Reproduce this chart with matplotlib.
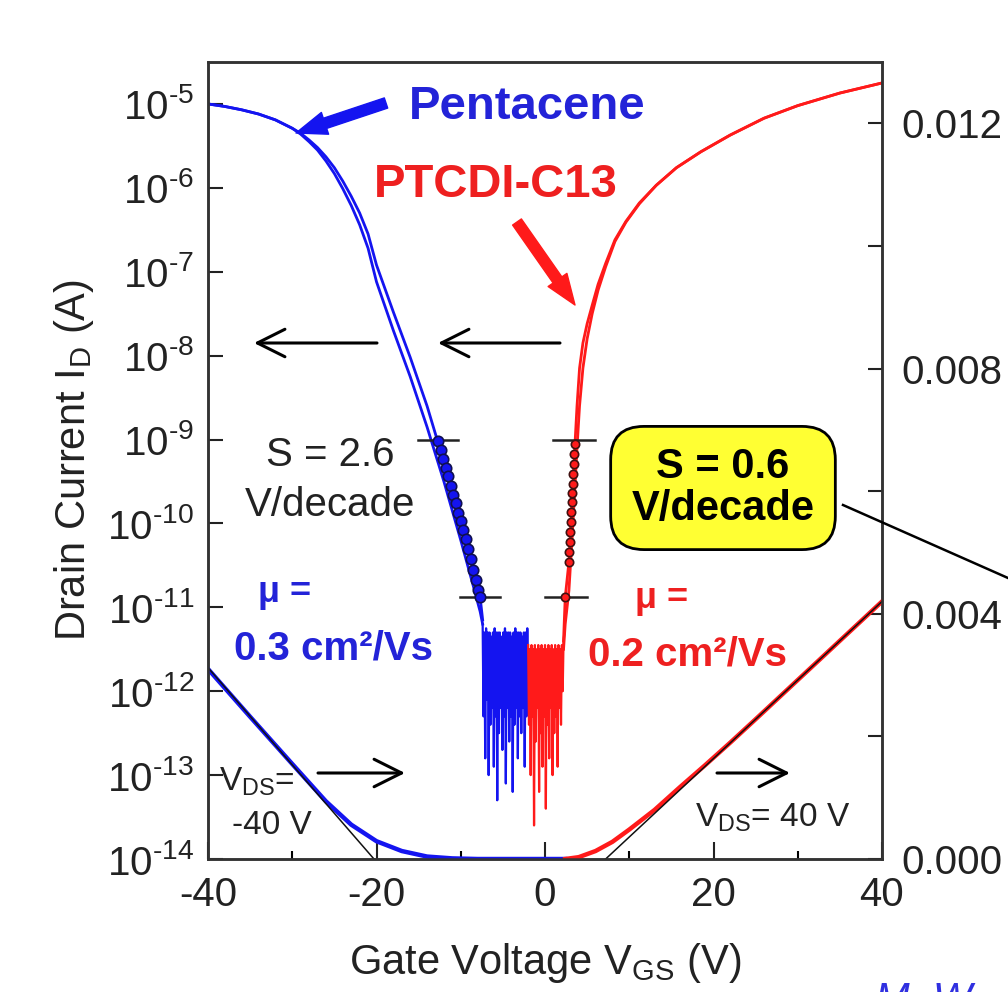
import numpy as np
import matplotlib.pyplot as plt
from matplotlib.patches import FancyArrowPatch
from matplotlib.lines import Line2D
from matplotlib.ticker import FixedLocator, NullLocator

plt.rcParams['font.family'] = ['Liberation Sans', 'DejaVu Sans']
plt.rcParams['mathtext.fontset'] = 'custom'
plt.rcParams['mathtext.rm'] = 'Liberation Sans'
plt.rcParams['mathtext.it'] = 'Liberation Sans:italic'
plt.rcParams['mathtext.bf'] = 'Liberation Sans:bold'
plt.rcParams['axes.unicode_minus'] = False

# ---- data ----
# pentacene transfer curve, log10(I_D), two sweep directions
pen_v = [-40, -38, -36, -34, -32, -30, -29, -28, -27, -26, -25, -24, -23, -22, -21, -20,
         -18, -16, -14, -12, -10, -8.5, -7.7, -7.4]
pen_fwd = [-5.00, -5.03, -5.07, -5.12, -5.19, -5.29, -5.35, -5.43, -5.52, -5.63, -5.76,
           -5.92, -6.10, -6.30, -6.55, -6.92, -7.48, -8.02, -8.60, -9.27, -9.97, -10.55,
           -10.88, -11.15]
pen_rev = [-5.00, -5.03, -5.07, -5.12, -5.19, -5.29, -5.36, -5.45, -5.55, -5.68, -5.83,
           -6.01, -6.21, -6.44, -6.72, -7.12, -7.70, -8.25, -8.85, -9.50, -10.20, -10.75,
           -11.05, -11.20]
pen_noise = [-11.2, -12.3, -11.3, -12.8, -11.25, -12.1, -11.3, -13.0, -11.3, -12.4,
             -11.35, -12.2, -11.3, -12.9, -11.25, -12.3, -11.3, -13.3, -11.3, -12.5,
             -11.3, -12.2, -11.35, -12.7, -11.3, -12.3, -11.25, -13.1, -11.3, -12.2,
             -11.3, -12.6, -11.3, -12.3, -11.35, -13.2, -11.3, -12.4, -11.25, -12.2,
             -11.3, -12.8, -11.3, -12.3, -11.3, -12.5, -11.35, -12.2, -11.3, -12.9,
             -11.3, -12.3, -11.25, -12.2]
pen_circ_v = [-12.7, -12.4, -12.1, -11.8, -11.5, -11.2, -10.9, -10.6, -10.3, -10.0,
              -9.7, -9.4, -9.1, -8.8, -8.5, -8.2, -7.9, -7.7]
pen_circ = [-9.02, -9.13, -9.23, -9.34, -9.44, -9.55, -9.66, -9.76, -9.87, -9.97,
            -10.08, -10.18, -10.30, -10.42, -10.55, -10.67, -10.79, -10.88]

# PTCDI-C13 transfer curve
pt_v = [2.2, 2.4, 2.84, 3.2, 3.56, 3.8, 4.1, 4.5, 5.0, 5.6, 6.3, 7.2, 8.3, 9.6, 11.2,
        13.2, 15.6, 18.5, 22, 26, 30, 35, 40]
pt_fwd = [-11.4, -10.88, -10.46, -9.74, -9.05, -8.6, -8.15, -7.85, -7.62, -7.4, -7.15,
          -6.9, -6.62, -6.4, -6.18, -5.97, -5.76, -5.57, -5.37, -5.17, -5.02, -4.87, -4.75]
pt_rev = [-11.5, -11.2, -10.8, -10.2, -9.55, -9.1, -8.6, -8.15, -7.8, -7.5, -7.22,
          -6.94, -6.64, -6.41, -6.19, -5.97, -5.76, -5.57, -5.37, -5.17, -5.02, -4.87, -4.75]
pt_noise = [-11.45, -12.4, -11.5, -13.0, -11.45, -12.3, -11.5, -13.6, -11.45, -12.6,
            -11.5, -12.2, -11.45, -13.2, -11.5, -12.5, -11.45, -12.9, -11.5, -12.3,
            -11.45, -13.4, -11.5, -12.4, -11.45, -12.8, -11.5, -12.2, -11.45, -13.0,
            -11.5, -12.5, -11.45, -12.3, -11.5, -12.9, -11.45, -12.2, -11.5, -12.4,
            -11.45, -12.0, -11.4, -11.3]
pt_circ_v = [3.56, 3.5, 3.44, 3.38, 3.32, 3.26, 3.2, 3.14, 3.08, 3.02, 2.96, 2.9, 2.84, 2.4]
pt_circ = [-9.05, -9.17, -9.29, -9.41, -9.53, -9.64, -9.74, -9.86, -9.98, -10.1,
           -10.22, -10.34, -10.46, -10.88]

# linear (right axis) curves
pen_lin_v = [-40, -35, -30, -26, -23, -20, -17, -14, -11, -8, 2.4]
pen_lin = [0.0031, 0.00232, 0.00155, 0.00094, 0.00056, 0.00029, 0.00013, 0.00004,
           0.00001, 0.0, 0.0]
pt_lin_v = [2.4, 4, 6, 8, 10, 13, 16, 19, 22, 25, 30, 35, 40]
pt_lin = [0.0, 0.00003, 0.00013, 0.00028, 0.00048, 0.0008, 0.00117, 0.00153,
          0.0019, 0.00228, 0.00292, 0.00356, 0.0042]
pen_fit_v, pen_fit = [-40, -20.3], [0.00312, 0.0]
pt_fit_v, pt_fit = [7.2, 40], [0.0, 0.0042]

blue = '#1414f0'
red = '#ff1a1a'
W, H = 1008, 992


def P(x, y):
    return (x / W, 1 - y / H)


fig = plt.figure(figsize=(10.08, 9.92), dpi=100)
ax = fig.add_axes([208 / W, 1 - 859 / H, (882 - 208) / W, (859 - 62) / H])
ax2 = ax.twinx()

# log curves
ax.plot(pen_v, 10.0 ** np.array(pen_rev), color=blue, lw=2)
ax.plot(pen_v, 10.0 ** np.array(pen_fwd), color=blue, lw=2)
ax.plot(np.linspace(-7.4, -2.0, len(pen_noise)), 10.0 ** np.array(pen_noise), color=blue, lw=1.6)
ax.plot(pt_v, 10.0 ** np.array(pt_rev), color=red, lw=2)
ax.plot(pt_v, 10.0 ** np.array(pt_fwd), color=red, lw=2)
ax.plot(np.linspace(-2.0, 2.3, len(pt_noise)), 10.0 ** np.array(pt_noise), color=red, lw=1.6)

# S-fit markers
for v0, v1, lg in [(-15.1, -10.3, -9.0), (-10.1, -5.3, -10.88), (0.95, 5.9, -9.0), (0.0, 5.0, -10.88)]:
    ax.plot([v0, v1], [10.0 ** lg] * 2, color='#222222', lw=1.8)
ax.plot(pen_circ_v, 10.0 ** np.array(pen_circ), 'o', ms=7.5, mfc=blue, mec='#101050', mew=1.2)
ax.plot(pt_circ_v, 10.0 ** np.array(pt_circ), 'o', ms=6, mfc=red, mec='#401010', mew=1.2)

ax.set_yscale('log')
ax.set_xlim(-40, 40)
ax.set_ylim(1e-14, 10 ** -4.5)
ax.yaxis.set_major_locator(FixedLocator([10.0 ** k for k in range(-14, -4)]))
ax.yaxis.set_minor_locator(NullLocator())
ax.set_yticklabels([r'10$^{\text{-}%d}$' % -k for k in range(-14, -4)])
ax.set_xticks([-40, -20, 0, 20, 40])
ax.set_xticklabels(['-40', '-20', '0', '20', '40'])
ax.set_xticks([-30, -10, 10, 30], minor=True)
ax.tick_params(axis='y', which='major', direction='in', length=11, width=1.5,
               labelsize=29, pad=10, colors='#222222')
ax.tick_params(axis='x', which='major', direction='in', length=12, width=1.5,
               labelsize=29, pad=12, colors='#222222')
ax.tick_params(axis='x', which='minor', direction='in', length=6, width=1.5)
ax.set_xlabel(r'Gate Voltage V$_{\mathrm{GS}}$ (V)', fontsize=30, color='#222222', labelpad=20)
ax.set_ylabel(r'Drain Current I$_{\mathrm{D}}$ (A)', fontsize=30, color='#222222', labelpad=8)

# linear curves
ax2.plot(pen_lin_v, pen_lin, color=blue, lw=3.2)
ax2.plot(pt_lin_v, pt_lin, color=red, lw=3.2)
ax2.plot(pen_fit_v, pen_fit, color='#111111', lw=1.1)
ax2.plot(pt_fit_v, pt_fit, color='#111111', lw=1.1)
ax2.set_ylim(0, 0.013)
ax2.set_yticks([0.0, 0.004, 0.008, 0.012])
ax2.set_yticklabels(['0.000', '0.004', '0.008', '0.012'])
ax2.set_yticks([0.002, 0.006, 0.010], minor=True)
ax2.tick_params(axis='y', which='both', direction='in', length=10, width=1.5,
                labelsize=29, pad=14, colors='#222222')

for a in (ax, ax2):
    for s in a.spines.values():
        s.set_linewidth(1.8)
        s.set_color('#333333')

# text annotations
fig.text(*P(527, 107), 'Pentacene', color='#2323d8', fontsize=34, fontweight='bold', ha='center', va='center')
fig.text(*P(496, 185), 'PTCDI-C13', color='#ee2020', fontsize=34, fontweight='bold', ha='center', va='center')
fig.text(*P(330, 455), 'S = 2.6', color='#222222', fontsize=29, ha='center', va='center')
fig.text(*P(330, 505), 'V/decade', color='#222222', fontsize=29, ha='center', va='center')
fig.text(*P(723, 488), 'S = 0.6\nV/decade', color='black', fontsize=30, fontweight='bold',
         ha='center', va='center', linespacing=1.05,
         bbox=dict(boxstyle='round,pad=0.5,rounding_size=0.8', fc='#ffff33', ec='black', lw=2))
fig.text(*P(285, 593), 'μ =', color='#2323d8', fontsize=26, fontweight='bold', ha='center', va='center')
fig.text(*P(333, 648), '0.3 cm²/Vs', color='#2323d8', fontsize=29, fontweight='bold', ha='center', va='center')
fig.text(*P(662, 598), 'μ =', color='#ee2020', fontsize=26, fontweight='bold', ha='center', va='center')
fig.text(*P(687, 655), '0.2 cm²/Vs', color='#ee2020', fontsize=29, fontweight='bold', ha='center', va='center')
fig.text(*P(219, 782), r'V$_{\mathrm{DS}}$=', color='#222222', fontsize=24, ha='left', va='center')
fig.text(*P(272, 825), '-40 V', color='#222222', fontsize=24, ha='center', va='center')
fig.text(*P(695, 818), r'V$_{\mathrm{DS}}$= 40 V', color='#222222', fontsize=24, ha='left', va='center')
fig.text(*P(875, 1012), 'M. W', color='#3030e0', fontsize=30, style='italic', ha='left', va='baseline')

# arrows
fig.add_artist(FancyArrowPatch(P(386, 103), P(296, 133), transform=fig.transFigure,
                               arrowstyle='simple,head_length=1.0,head_width=0.75,tail_width=0.35',
                               mutation_scale=22, color=blue, shrinkA=0, shrinkB=0))
fig.add_artist(FancyArrowPatch(P(517, 222), P(575, 305), transform=fig.transFigure,
                               arrowstyle='simple,head_length=1.0,head_width=0.75,tail_width=0.35',
                               mutation_scale=22, color=red, shrinkA=0, shrinkB=0))
for (x0, y0), (x1, y1) in [((377, 343), (254, 343)), ((560, 343), (438, 343)),
                           ((318, 773), (405, 773)), ((717, 773), (790, 773))]:
    fig.add_artist(FancyArrowPatch(P(x0, y0), P(x1, y1), transform=fig.transFigure,
                                   arrowstyle='->,head_length=0.9,head_width=0.45',
                                   mutation_scale=22, lw=2.2, color='black', shrinkA=0, shrinkB=0))
fig.add_artist(Line2D([843 / W, 1.0], [1 - 505 / H, 1 - 578 / H], transform=fig.transFigure,
                      color='black', lw=1.8))

fig.savefig('out.png', dpi=100)
